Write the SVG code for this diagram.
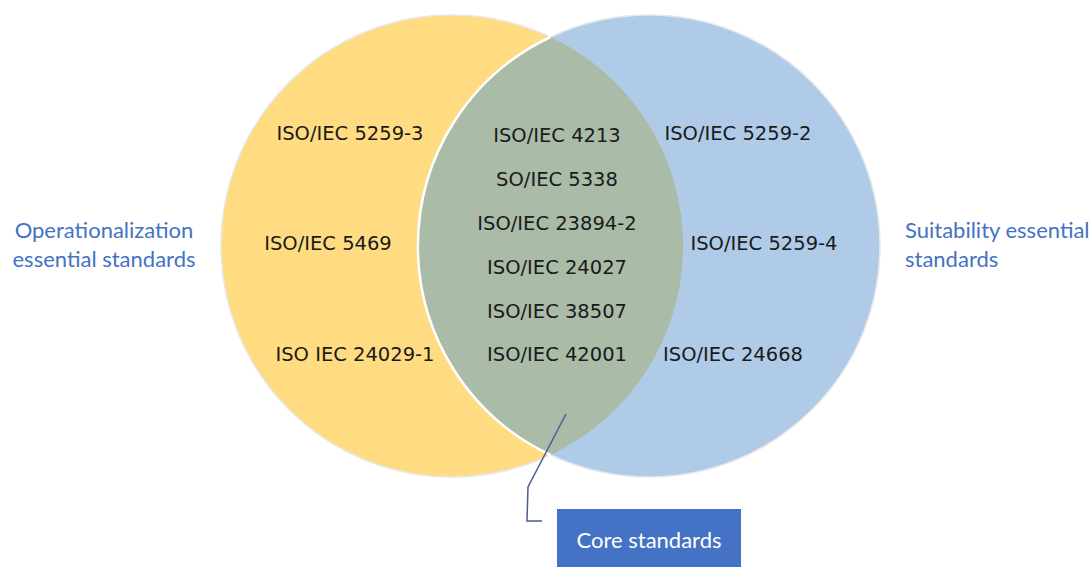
<svg xmlns="http://www.w3.org/2000/svg" width="1092" height="567" viewBox="0 0 1092 567">
<style>
.std{font-family:"DejaVu Sans",Verdana,sans-serif;font-size:19.5px;fill:#1a1a1a;text-anchor:middle}
.lbl{font-family:Lato,"Open Sans",sans-serif;font-size:22px;fill:#4472C4}
.outer{stroke:#e8e8e8;stroke-width:1.5}
</style>
<rect width="1092" height="567" fill="#ffffff"/>
<g id="operationalization">
<circle class="outer" cx="452" cy="246" r="231" fill="#FFDC82"/>
</g>
<g id="suitability">
<circle class="outer" cx="649" cy="246" r="231" fill="#AFCBE8"/>
</g>
<g id="core">
<path d="M550.5 37 A231 231 0 0 1 550.5 455 A231 231 0 0 1 550.5 37 Z" fill="#AABBA8"/>
<path d="M550.5 37 A231 231 0 0 0 550.5 455" fill="none" stroke="#ffffff" stroke-width="2.5"/>
</g>
<g id="left-items">
<text class="std" x="350" y="140">ISO/IEC 5259-3</text>
<text class="std" x="328" y="250">ISO/IEC 5469</text>
<text class="std" x="355" y="361">ISO IEC 24029-1</text>
</g>
<g id="center-items">
<text class="std" x="557" y="142">ISO/IEC 4213</text>
<text class="std" x="557" y="186">SO/IEC 5338</text>
<text class="std" x="557" y="230">ISO/IEC 23894-2</text>
<text class="std" x="557" y="274">ISO/IEC 24027</text>
<text class="std" x="557" y="318">ISO/IEC 38507</text>
<text class="std" x="557" y="361">ISO/IEC 42001</text>
</g>
<g id="right-items">
<text class="std" x="738" y="140">ISO/IEC 5259-2</text>
<text class="std" x="764" y="250">ISO/IEC 5259-4</text>
<text class="std" x="733" y="361">ISO/IEC 24668</text>
</g>
<g id="label-left">
<text class="lbl" x="104" y="238" text-anchor="middle">Operationalization</text>
<text class="lbl" x="104" y="267" text-anchor="middle">essential standards</text>
</g>
<g id="label-right">
<text class="lbl" x="905" y="238">Suitability essential</text>
<text class="lbl" x="905" y="267">standards</text>
</g>
<g id="connectors">
<polyline points="566,414 528,487 527,521 542,521" fill="none" stroke="#4a5f8e" stroke-width="1.5"/>
</g>
<g id="core-standards">
<rect x="557" y="509" width="184" height="58" fill="#4472C4"/>
<text x="649" y="548" text-anchor="middle" font-family="Lato,'Open Sans',sans-serif" font-size="22" fill="#ffffff">Core standards</text>
</g>
</svg>
